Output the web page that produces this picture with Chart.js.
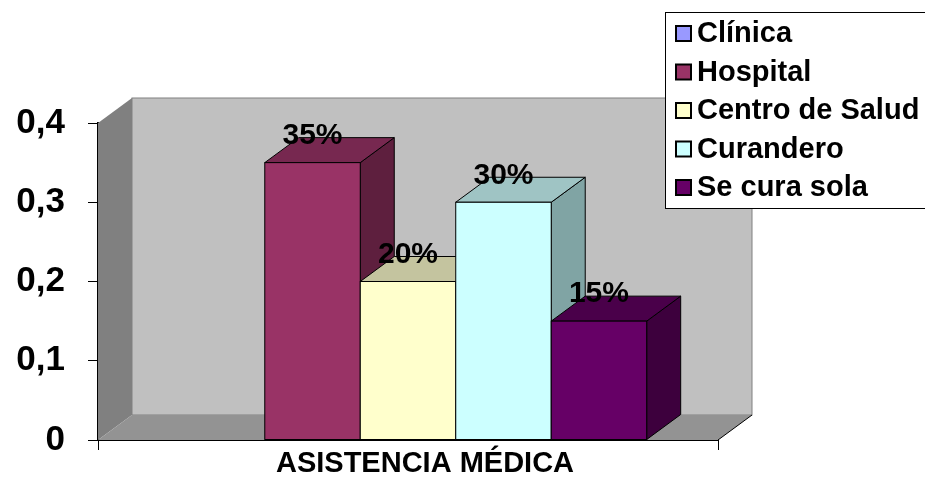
<!DOCTYPE html>
<html>
<head>
<meta charset="utf-8">
<script src="https://cdn.jsdelivr.net/npm/chart.js@4"></script>
<style>
  html, body { margin: 0; padding: 0; background: #fff; }
  canvas { display: block; }
</style>
</head>
<body>
<canvas id="asistencia" width="925" height="478"></canvas>
<script>
// datos
const categorias = ['ASISTENCIA MÉDICA'];
const series = ['Clínica', 'Hospital', 'Centro de Salud', 'Curandero', 'Se cura sola'];
const valores = [0, 0.35, 0.20, 0.30, 0.15];
const ticksY = [0, 0.1, 0.2, 0.3, 0.4];

// colores (cara frontal, superior, lateral)
const colores = ['#9999FF', '#993366', '#FFFFCC', '#CCFFFF', '#660066'];
const coloresArriba = ['#7777C7', '#772850', '#C4C49F', '#9FC4C4', '#4A004A'];
const coloresLado = ['#5F5F9F', '#5E1F3E', '#9F9F80', '#80A4A4', '#3D003D'];

const fuente = '"Liberation Sans", Arial, sans-serif';
const dx = 34, dy = 25;

const efecto3d = {
  id: 'efecto3d',
  beforeDatasetsDraw(chart) {
    const ctx = chart.ctx;
    const a = chart.chartArea;
    ctx.save();
    // pared del fondo
    ctx.fillStyle = '#C0C0C0';
    ctx.fillRect(a.left + dx, a.top - dy, a.right - a.left, a.bottom - a.top);
    ctx.strokeStyle = '#808080';
    ctx.lineWidth = 1;
    ctx.strokeRect(a.left + dx, a.top - dy, a.right - a.left, a.bottom - a.top);
    // pared izquierda
    ctx.fillStyle = '#808080';
    ctx.beginPath();
    ctx.moveTo(a.left, a.top);
    ctx.lineTo(a.left + dx, a.top - dy);
    ctx.lineTo(a.left + dx, a.bottom - dy);
    ctx.lineTo(a.left, a.bottom);
    ctx.closePath();
    ctx.fill();
    // piso
    ctx.fillStyle = '#939393';
    ctx.beginPath();
    ctx.moveTo(a.left, a.bottom);
    ctx.lineTo(a.left + dx, a.bottom - dy);
    ctx.lineTo(a.right + dx, a.bottom - dy);
    ctx.lineTo(a.right, a.bottom);
    ctx.closePath();
    ctx.fill();
    ctx.strokeStyle = '#000';
    ctx.beginPath();
    ctx.moveTo(a.right, a.bottom);
    ctx.lineTo(a.right + dx, a.bottom - dy);
    ctx.stroke();
    ctx.restore();
  },
  afterDatasetsDraw(chart) {
    const ctx = chart.ctx;
    ctx.save();
    ctx.lineWidth = 1;
    ctx.strokeStyle = '#000';
    chart.data.datasets.forEach((ds, i) => {
      const bar = chart.getDatasetMeta(i).data[0];
      if (!ds.data[0]) return;
      const l = bar.x - bar.width / 2, r = bar.x + bar.width / 2;
      const t = bar.y, b = bar.base;
      // lado
      ctx.fillStyle = coloresLado[i];
      ctx.beginPath();
      ctx.moveTo(r, t); ctx.lineTo(r + dx, t - dy); ctx.lineTo(r + dx, b - dy); ctx.lineTo(r, b);
      ctx.closePath(); ctx.fill(); ctx.stroke();
      // arriba
      ctx.fillStyle = coloresArriba[i];
      ctx.beginPath();
      ctx.moveTo(l, t); ctx.lineTo(l + dx, t - dy); ctx.lineTo(r + dx, t - dy); ctx.lineTo(r, t);
      ctx.closePath(); ctx.fill(); ctx.stroke();
      // frente
      ctx.fillStyle = colores[i];
      ctx.fillRect(l, t, r - l, b - t);
      ctx.strokeRect(l, t, r - l, b - t);
    });
    // etiquetas de porcentaje
    ctx.fillStyle = '#000';
    ctx.font = 'bold 30px ' + fuente;
    ctx.textAlign = 'center';
    ctx.textBaseline = 'middle';
    chart.data.datasets.forEach((ds, i) => {
      const v = ds.data[0];
      if (!v) return;
      const bar = chart.getDatasetMeta(i).data[0];
      ctx.fillText(Math.round(v * 100) + '%', bar.x, bar.y - 27);
    });
    ctx.restore();
  },
  afterDraw(chart) {
    // leyenda
    const ctx = chart.ctx;
    ctx.save();
    ctx.fillStyle = '#fff';
    ctx.fillRect(665, 12, 270, 196);
    ctx.strokeStyle = '#000';
    ctx.lineWidth = 1;
    ctx.strokeRect(665.5, 12.5, 270, 196);
    ctx.font = 'bold 29px ' + fuente;
    ctx.textAlign = 'left';
    ctx.textBaseline = 'middle';
    series.forEach((s, i) => {
      const y = 33 + i * 38.5;
      ctx.fillStyle = colores[i];
      ctx.fillRect(676, y - 7, 15, 15);
      ctx.lineWidth = 2;
      ctx.strokeRect(676, y - 7, 15, 15);
      ctx.fillStyle = '#000';
      ctx.fillText(s, 697, y + 1);
    });
    ctx.restore();
  }
};

const ctxA = document.getElementById('asistencia').getContext('2d');
const grafAsistencia = new Chart(ctxA, {
  type: 'bar',
  data: {
    labels: categorias,
    datasets: series.map((s, i) => ({
      label: s,
      data: [valores[i]],
      backgroundColor: colores[i],
      borderColor: '#000',
      borderWidth: 1,
      categoryPercentage: 0.77,
      barPercentage: 1
    }))
  },
  options: {
    responsive: false,
    animation: false,
    layout: { padding: { top: 123, right: 207, left: 0, bottom: 0 } },
    plugins: {
      legend: { display: false },
      tooltip: { enabled: false }
    },
    scales: {
      x: {
        afterFit(scale) { scale.height = 38; },
        grid: { drawOnChartArea: false, tickLength: 10, color: '#000' },
        border: { color: '#000', width: 2 },
        ticks: {
          color: '#000',
          padding: -1,
          labelOffset: 17,
          font: { family: fuente, size: 29, weight: 'bold', lineHeight: 1.0 }
        }
      },
      y: {
        min: 0,
        max: 0.4,
        afterFit(scale) {
          scale.width = 98;
          scale.paddingTop = 0;
          scale.paddingBottom = 0;
        },
        afterBuildTicks(scale) { scale.ticks = ticksY.map(v => ({ value: v })); },
        grid: { drawOnChartArea: false, tickLength: 10, color: '#000' },
        border: { color: '#000', width: 2 },
        ticks: {
          color: '#000',
          padding: 23,
          font: { family: fuente, size: 35, weight: 'bold' },
          callback: v => v === 0 ? '0' : v.toFixed(1).replace('.', ',')
        }
      }
    }
  },
  plugins: [efecto3d]
});
</script>
</body>
</html>
